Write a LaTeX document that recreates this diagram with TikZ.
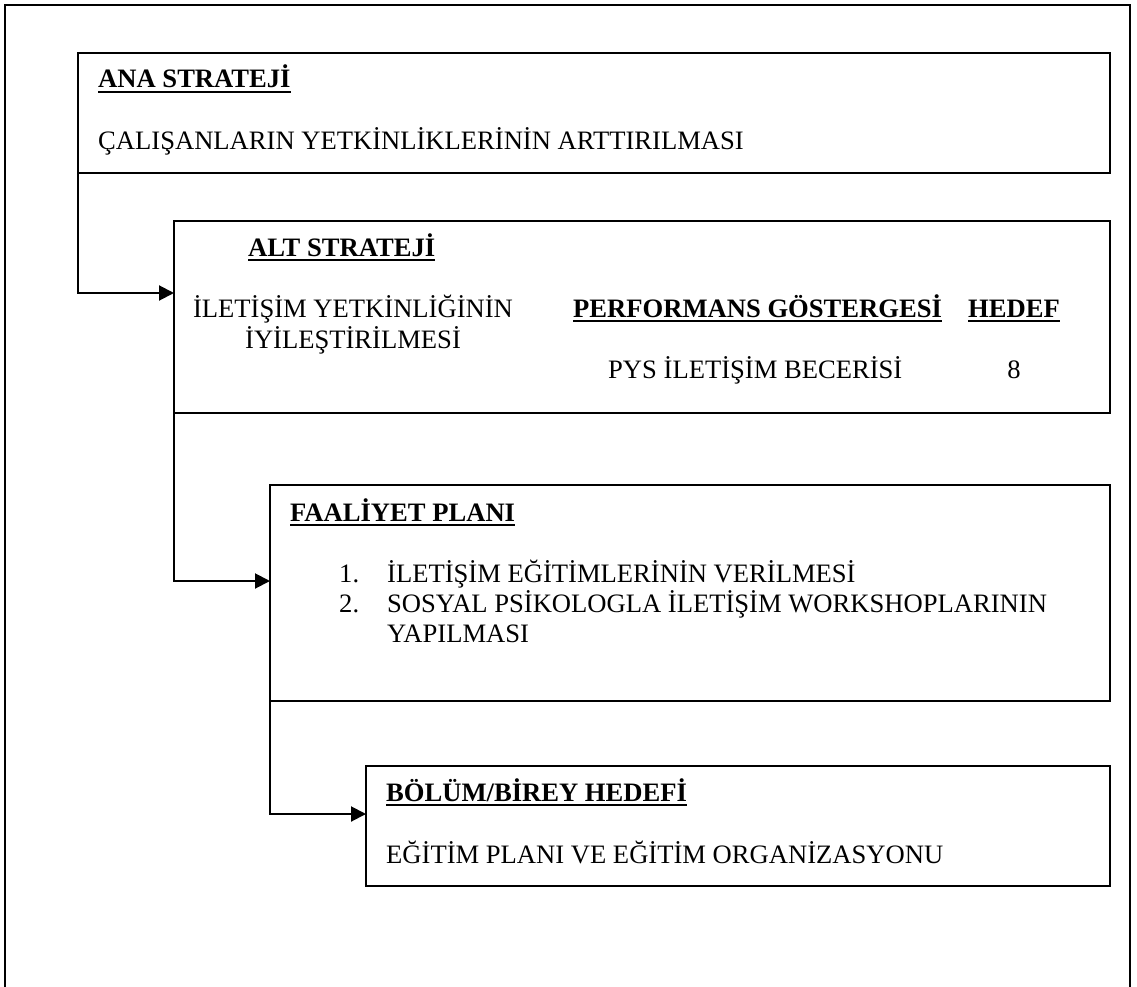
\documentclass[tikz,border=0pt]{standalone}
\usepackage{fontspec}
\setmainfont{Liberation Serif}
\usetikzlibrary{arrows.meta}
% bold heading with a thick underline
\newsavebox\hdbox
\newcommand{\hdline}[1]{\sbox\hdbox{\bfseries #1}\rlap{\rule[-5pt]{\wd\hdbox}{2.2pt}}\usebox\hdbox}
\begin{document}
\begin{tikzpicture}[x=1pt,y=-1pt,
  panel/.style={draw, line width=2pt, anchor=north west, inner sep=0pt, outer sep=0pt},
  conn/.style={line width=2pt, -{Triangle[length=15pt,width=15pt]}},
  txt/.style={anchor=base west, inner sep=0pt, font=\fontsize{26.6pt}{30.6pt}\selectfont},
  ctxt/.style={txt, anchor=base}]
\useasboundingbox (0,0) rectangle (1137,987);
% page frame, open at the bottom
\draw[line width=2pt] (5,995) -- (5,5) -- (1130,5) -- (1130,995);

% panels
\node[panel, minimum width=1032pt, minimum height=120pt] (ana) at (78,53) {};
\node[panel, minimum width=936pt, minimum height=192pt] (alt) at (174,221) {};
\node[panel, minimum width=840pt, minimum height=216pt] (fa) at (270,485) {};
\node[panel, minimum width=744pt, minimum height=120pt] (bb) at (366,766) {};

% connectors
\draw[conn] (ana.south west) |- ([yshift=-72pt]alt.north west);
\draw[conn] (alt.south west) |- ([yshift=-96pt]fa.north west);
\draw[conn] (fa.south west) |- ([yshift=-48pt]bb.north west);

% main strategy
\node[txt] (anaT) at (98,88) {\hdline{ANA STRATEJİ}};
\node[txt] (anaB) at (98,150) {ÇALIŞANLARIN YETKİNLİKLERİNİN ARTTIRILMASI};

% sub strategy
\node[txt] (altT) at (248,256) {\hdline{ALT STRATEJİ}};
\node[ctxt] (altA) at (353,317) {İLETİŞİM YETKİNLİĞİNİN};
\node[ctxt] (altB) at (353,348) {İYİLEŞTİRİLMESİ};
\node[txt] (perfT) at (573,317) {\hdline{PERFORMANS GÖSTERGESİ}};
\node[txt] (hedefT) at (968,317) {\hdline{HEDEF}};
\node[txt] (pys) at (608,378) {PYS İLETİŞİM BECERİSİ};
\node[ctxt] (eight) at (1014,378) {8};

% action plan
\node[txt] (faT) at (290,521) {\hdline{FAALİYET PLANI}};
\node[txt] (n1) at (339,582) {1.};
\node[txt] (i1) at (387,582) {İLETİŞİM EĞİTİMLERİNİN VERİLMESİ};
\node[txt] (n2) at (339,612) {2.};
\node[txt] (i2) at (387,612) {SOSYAL PSİKOLOGLA İLETİŞİM WORKSHOPLARININ};
\node[txt] (i2b) at (387,642) {YAPILMASI};

% department / individual target
\node[txt] (bbT) at (386,801) {\hdline{BÖLÜM/BİREY HEDEFİ}};
\node[txt] (bbB) at (386,863) {EĞİTİM PLANI VE EĞİTİM ORGANİZASYONU};
\end{tikzpicture}
\end{document}
